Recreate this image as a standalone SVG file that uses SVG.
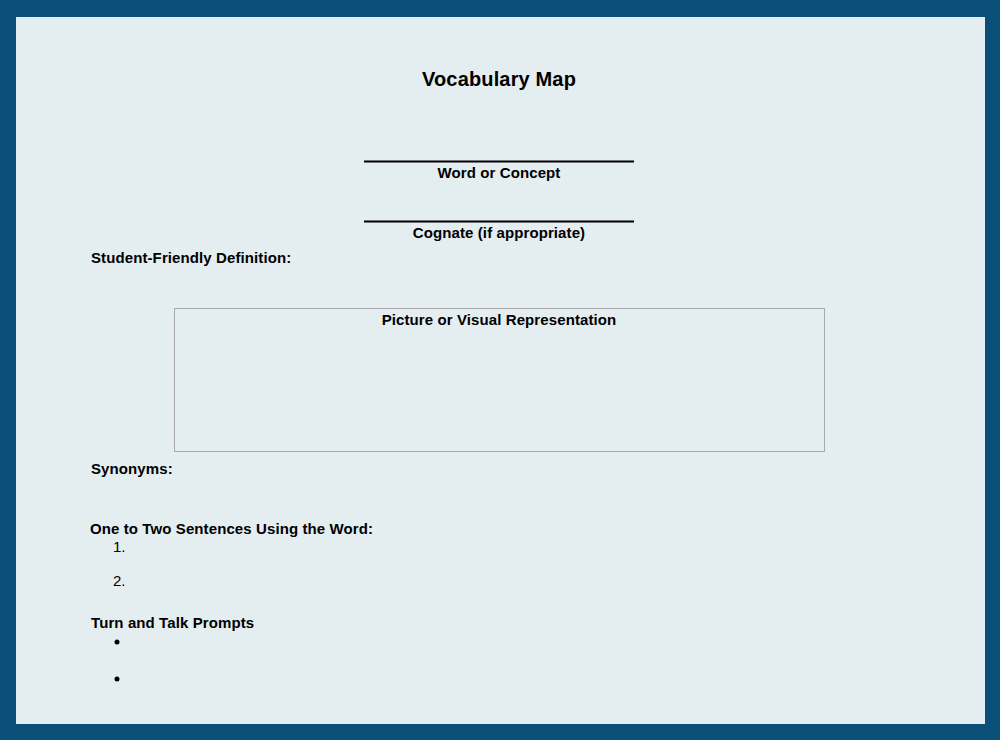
<svg xmlns="http://www.w3.org/2000/svg" width="1000" height="740" viewBox="0 0 1000 740">
<style>
text{font-family:"Liberation Sans",Arial,sans-serif;fill:#000}
.b{font-weight:bold;font-size:15px;letter-spacing:0.1px}
.c{text-anchor:middle}
.n{font-size:15px}
.rule{stroke:#000;stroke-width:2}
</style>
<rect x="0" y="0" width="1000" height="740" fill="#0a4f78"/>
<rect x="16" y="17" width="969" height="707" fill="#e4edf0"/>
<g id="title"><text x="499" y="86" class="c" font-weight="bold" font-size="20" letter-spacing="0.15">Vocabulary Map</text></g>
<g id="word">
<line x1="364" y1="161.5" x2="634" y2="161.5" class="rule"/>
<text x="499" y="178" class="b c">Word or Concept</text>
</g>
<g id="cognate">
<line x1="364" y1="221.5" x2="634" y2="221.5" class="rule"/>
<text x="499" y="238" class="b c">Cognate (if appropriate)</text>
</g>
<g id="definition"><text x="91" y="263" class="b">Student-Friendly Definition:</text></g>
<g id="picture">
<rect x="174.5" y="308.5" width="650" height="143" fill="none" stroke="#aaaaaa" stroke-width="1"/>
<text x="499" y="325" class="b c">Picture or Visual Representation</text>
</g>
<g id="synonyms"><text x="91" y="474" class="b">Synonyms:</text></g>
<g id="sentences">
<text x="90" y="534" class="b">One to Two Sentences Using the Word:</text>
<text x="113" y="552" class="n">1.</text>
<text x="113" y="586" class="n">2.</text>
</g>
<g id="prompts">
<text x="91" y="628" class="b">Turn and Talk Prompts</text>
<circle cx="117" cy="642" r="2.5"/>
<circle cx="117" cy="679" r="2.5"/>
</g>
<g id="connectors"></g>
</svg>
